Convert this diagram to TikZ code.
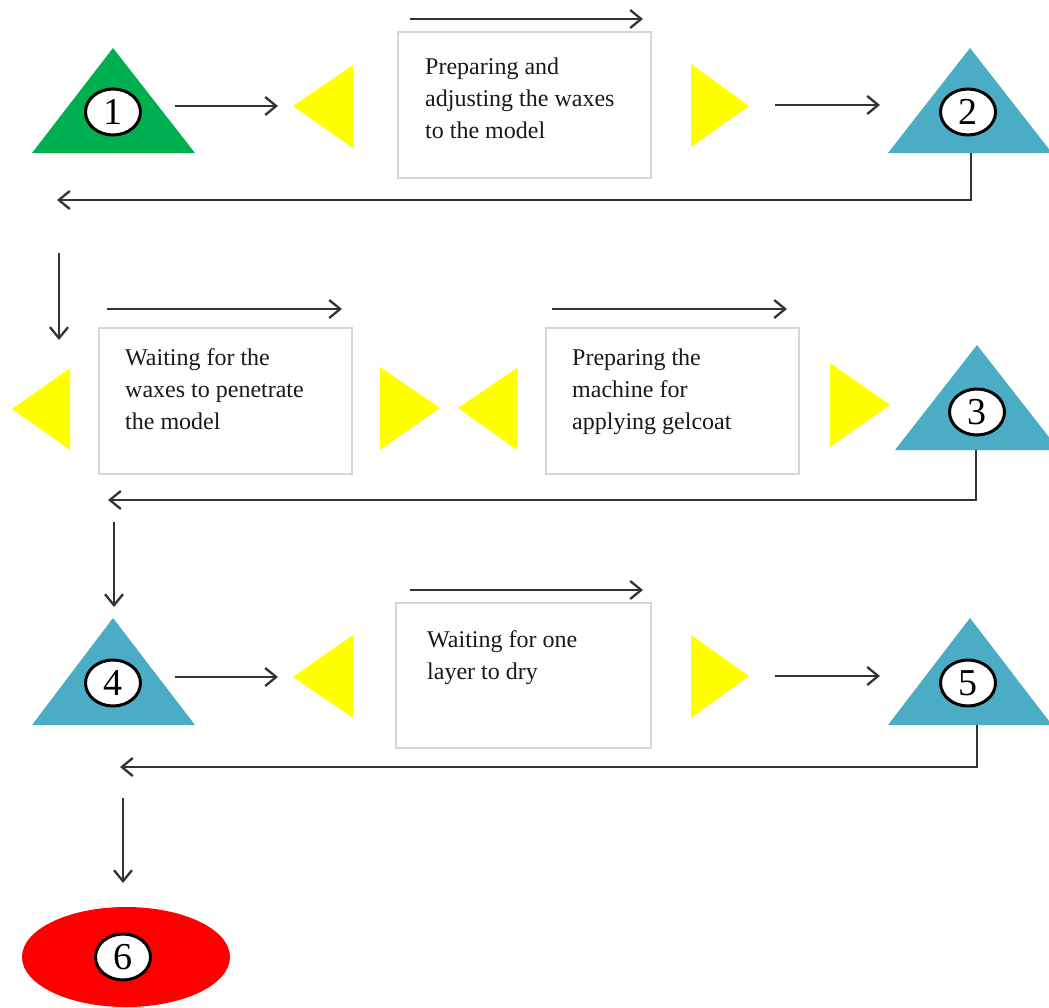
\documentclass[tikz,border=0pt]{standalone}
\usepackage{fontspec}
\setmainfont{Liberation Serif}
\usetikzlibrary{arrows.meta,shapes.geometric}

\definecolor{stagegreen}{HTML}{00B050}
\definecolor{stageblue}{HTML}{4BACC6}
\definecolor{flagyellow}{HTML}{FFFF00}
\definecolor{finalred}{HTML}{FF0000}
\definecolor{boxgray}{HTML}{D6D6D6}
\definecolor{ink}{HTML}{333333}

\tikzset{
  flow/.style={draw=ink, line width=2.3pt, -{Straight Barb[length=11pt,width=18pt]}},
  numtag/.style={ellipse, draw=black, fill=white, line width=3pt,
    minimum width=55pt, minimum height=46pt, inner sep=0pt,
    font=\fontsize{38}{38}\selectfont},
  taskbox/.style={draw=boxgray, line width=2pt, fill=white, inner sep=0pt,
    anchor=north west, minimum width=253pt, minimum height=146pt},
  tasktext/.style={anchor=north west, inner sep=0pt, align=left,
    font=\fontsize{24}{32}\selectfont, text=black!90},
  flag/.style={fill=flagyellow},
}

\begin{document}
\begin{tikzpicture}[x=1pt,y=-1pt]
\clip (0,0) rectangle (1049,1007);
\fill[white] (0,0) rectangle (1049,1007);

% ---------- stage triangles ----------
\fill[stagegreen] (113,48) -- (32,153) -- (195,153) -- cycle;
\fill[stageblue]  (970,48) -- (888,153) -- (1052,153) -- cycle;
\fill[stageblue]  (977,345) -- (895,450) -- (1059,450) -- cycle;
\fill[stageblue]  (113,618) -- (32,725) -- (195,725) -- cycle;
\fill[stageblue]  (970,618) -- (888,725) -- (1052,725) -- cycle;
\node[ellipse, fill=finalred, minimum width=208pt, minimum height=100pt, inner sep=0pt] (e6) at (126,957) {};

% ---------- stage numbers ----------
\node[numtag] (n1) at (113,112) {1};
\node[numtag] (n2) at (968,112) {2};
\node[numtag] (n3) at (977,412) {3};
\node[numtag] (n4) at (113,683) {4};
\node[numtag] (n5) at (968,683) {5};
\node[numtag] (n6) at (123,957) {6};

% ---------- yellow markers around the tasks ----------
\fill[flag] (353,65) -- (353,148) -- (293,106) -- cycle;
\fill[flag] (691,64) -- (691,147) -- (749,106) -- cycle;
\fill[flag] (70,368) -- (70,450) -- (12,409) -- cycle;
\fill[flag] (380,367) -- (380,450) -- (440,408) -- cycle;
\fill[flag] (517,368) -- (517,450) -- (458,408) -- cycle;
\fill[flag] (830,363) -- (830,447) -- (890,405) -- cycle;
\fill[flag] (353,635) -- (353,718) -- (293,677) -- cycle;
\fill[flag] (691,635) -- (691,718) -- (749,676) -- cycle;

% ---------- task boxes ----------
\node[taskbox] (b1) at (397,31) {};
\node[tasktext] (x1) at (425,57.6) {Preparing and\\adjusting the waxes\\to the model};
\node[taskbox] (b2) at (98,327) {};
\node[tasktext] (x2) at (125,348.6) {Waiting for the\\waxes to penetrate\\the model};
\node[taskbox] (b3) at (545,327) {};
\node[tasktext] (x3) at (572,348.6) {Preparing the\\machine for\\applying gelcoat};
\node[taskbox, minimum width=255pt, minimum height=145pt] (b4) at (395,602) {};
\node[tasktext] (x4) at (427,630) {Waiting for one\\layer to dry};

% ---------- connector end points ----------
\coordinate (a1s) at (410,19);  \coordinate (a1e) at (643,19);
\coordinate (a2s) at (107,309); \coordinate (a2e) at (342,309);
\coordinate (a3s) at (552,309); \coordinate (a3e) at (787,309);
\coordinate (a4s) at (410,590); \coordinate (a4e) at (643,590);

\coordinate (r1a) at (175,106); \coordinate (r1b) at (278,106);
\coordinate (r1c) at (775,105); \coordinate (r1d) at (880,105);
\coordinate (r3a) at (175,677); \coordinate (r3b) at (278,677);
\coordinate (r3c) at (775,676); \coordinate (r3d) at (880,676);

\coordinate (t2b) at (971,153); \coordinate (ret1) at (57,200);
\coordinate (d1s) at (59,253);  \coordinate (d1e) at (59,340);
\coordinate (t3b) at (976,450); \coordinate (ret2) at (108,500);
\coordinate (d2s) at (114,522); \coordinate (d2e) at (114,607);
\coordinate (t5b) at (977,725); \coordinate (ret3) at (120,767);
\coordinate (d3s) at (123,798); \coordinate (d3e) at (123,883);

% ---------- arrows ----------
\draw[flow] (a1s) -- (a1e);
\draw[flow] (a2s) -- (a2e);
\draw[flow] (a3s) -- (a3e);
\draw[flow] (a4s) -- (a4e);

\draw[flow] (r1a) -- (r1b);
\draw[flow] (r1c) -- (r1d);
\draw[flow] (r3a) -- (r3b);
\draw[flow] (r3c) -- (r3d);

\draw[flow] (t2b) |- (ret1);
\draw[flow] (d1s) -- (d1e);
\draw[flow] (t3b) |- (ret2);
\draw[flow] (d2s) -- (d2e);
\draw[flow] (t5b) |- (ret3);
\draw[flow] (d3s) -- (d3e);
\end{tikzpicture}
\end{document}
